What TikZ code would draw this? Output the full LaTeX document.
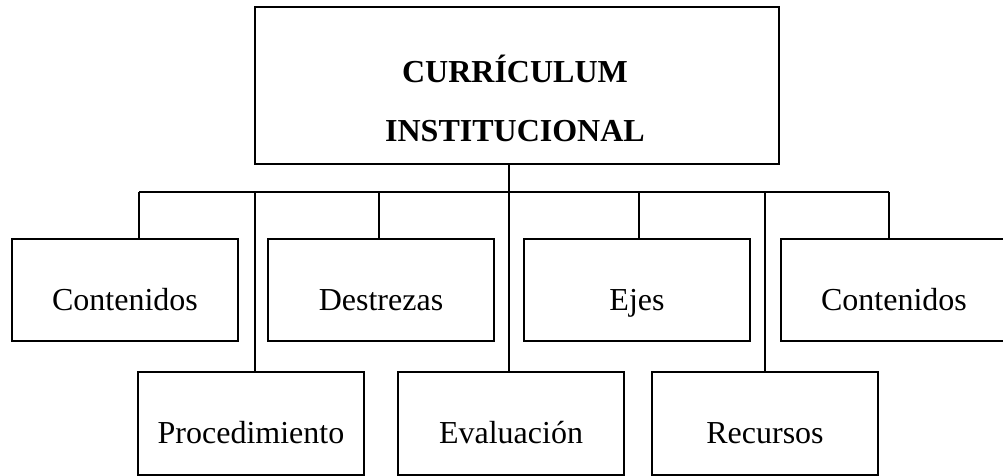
\documentclass[tikz,border=0pt]{standalone}
\usepackage{fontspec}
\setmainfont{Liberation Serif}
\tikzset{
  box/.style={draw=black, line width=1.1pt, rectangle, inner sep=0pt,
    minimum width=226pt, minimum height=102pt,
    font=\fontsize{32}{38}\selectfont, text height=40pt, text depth=0pt},
  topbox/.style={draw=black, line width=2pt, rectangle, inner sep=0pt,
    minimum width=524pt, minimum height=157pt},
  title/.style={font=\fontsize{32}{38}\selectfont\bfseries, anchor=base, inner sep=0pt},
  conn/.style={draw=black, line width=1.1pt}
}
\begin{document}
\begin{tikzpicture}[x=1pt,y=-1pt]
\useasboundingbox (0,0) rectangle (1003,476);
\clip (0,0) rectangle (1003,476);
\node[topbox] (top) at (517,85.5) {};
\node[title] (t1) at (515,83) {CURRÍCULUM};
\node[title] (t2) at (515,141) {INSTITUCIONAL};
\node[box] (c1) at (125,290) {Contenidos};
\node[box] (d) at (381,290) {Destrezas};
\node[box] (e) at (637,290) {Ejes};
\node[box] (c2) at (894,290) {Contenidos};
\node[box, minimum height=103pt] (p) at (251,423.5) {Procedimiento};
\node[box, minimum height=103pt] (ev) at (511,423.5) {Evaluación};
\node[box, minimum height=103pt] (r) at (765,423.5) {Recursos};
\coordinate (j1) at (139,192);
\coordinate (j2) at (255,192);
\coordinate (j3) at (379,192);
\coordinate (j4) at (509,192);
\coordinate (j5) at (639,192);
\coordinate (j6) at (765,192);
\coordinate (j7) at (889,192);
\draw[conn] (j1) -- (j7);
\draw[conn] (top.south -| j4) -- (j4);
\draw[conn] (j1) -- (j1 |- c1.north);
\draw[conn] (j3) -- (j3 |- d.north);
\draw[conn] (j5) -- (j5 |- e.north);
\draw[conn] (j7) -- (j7 |- c2.north);
\draw[conn] (j2) -- (j2 |- p.north);
\draw[conn] (j4) -- (j4 |- ev.north);
\draw[conn] (j6) -- (j6 |- r.north);
\end{tikzpicture}
\end{document}
